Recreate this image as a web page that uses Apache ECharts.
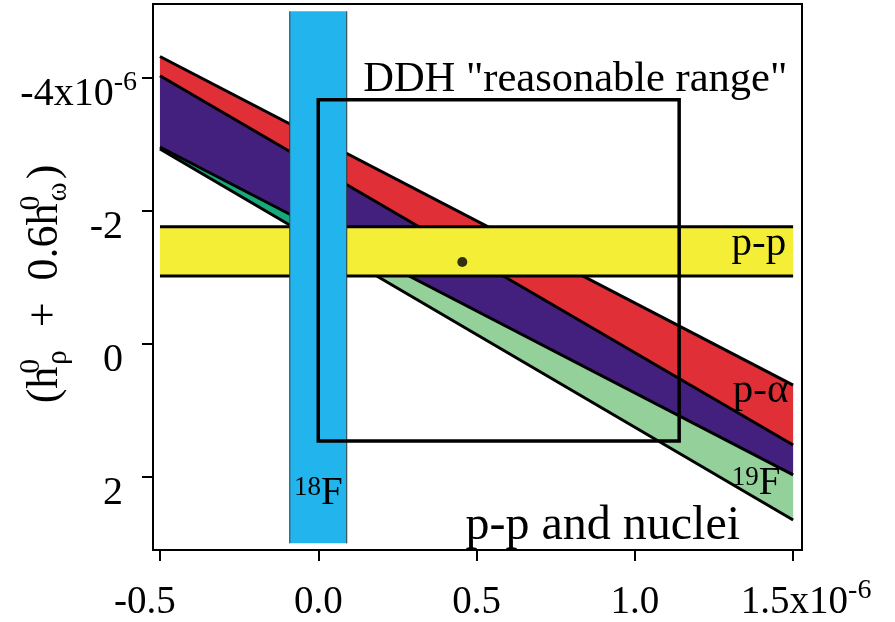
<!DOCTYPE html>
<html><head><meta charset="utf-8">
<script src="https://cdn.jsdelivr.net/npm/echarts@6/dist/echarts.min.js"></script>
<style>html,body{margin:0;padding:0;background:#fff}#c{width:895px;height:622px}</style>
</head><body><div id="c"></div>
<script>
// ---- data ----
const xTicks = [-0.5, 0.0, 0.5, 1.0, 1.5];
const yTicks = [-4, -2, 0, 2];
const bandX = [-0.5, 1.5];
const redTop = [-4.32, 0.62];
const redBottom = [-4.03, 1.52];
const purpleBottom = [-2.96, 1.97];
const greenBottom = [-2.93, 2.65];
const ppX = [-0.5, 1.5];
const ppY = [-1.76, -1.02];
const f18X = [-0.09, 0.09];
const f18Y = [-5.0, 3.0];
const ddhX = [0.0, 1.14];
const ddhY = [-3.67, 1.46];
const bestPoint = [0.455, -1.23];
const annotText = ['DDH "reasonable range"', 'p-p', 'p-\u03b1', '{s|19}F', '{s|18}F', 'p-p and nuclei'];
const annotX = [0.142, 1.478, 1.485, 1.46, 0.0, 0.465];
const annotY = [-3.97, -1.5, 0.71, 2.1, 2.26, 2.74];

// ---- styling ----
const FONT = "'Liberation Serif','Times New Roman',serif";
const annotAlign = ['left', 'right', 'right', 'right', 'center', 'left'];
const annotSize = [42.5, 41, 41, 39, 39, 48];

function at(arr, x) { return arr[0] + (arr[1] - arr[0]) * (x - bandX[0]) / (bandX[1] - bandX[0]); }

function bandShape(api, x0, x1, top, bot, fill) {
  const p = [api.coord([x0, at(top, x0)]), api.coord([x1, at(top, x1)]),
             api.coord([x1, at(bot, x1)]), api.coord([x0, at(bot, x0)])];
  return { type: 'polygon', shape: { points: p }, style: { fill: fill, stroke: null } };
}
function edge(api, arr, color, w) {
  return { type: 'polyline', shape: { points: [api.coord([bandX[0], arr[0]]), api.coord([bandX[1], arr[1]])] },
           style: { stroke: color || '#000', lineWidth: w || 3, fill: null } };
}

const chart = echarts.init(document.getElementById('c'), null, { renderer: 'canvas' });
const option = {
  animation: false,
  backgroundColor: '#fff',
  grid: { left: 153, right: 93, top: 4, bottom: 72, containLabel: false, outerBoundsMode: 'none',
          show: true, borderColor: '#000', borderWidth: 2, backgroundColor: 'transparent' },
  xAxis: {
    type: 'value', min: -0.522, max: 1.528,
    splitLine: { show: false },
    axisLine: { show: true, onZero: false, lineStyle: { color: '#000', width: 2 } },
    axisTick: { show: true, length: 11, lineStyle: { color: '#000', width: 2 }, customValues: xTicks },
    axisLabel: {
      customValues: xTicks, margin: 27, color: '#000', fontFamily: FONT,
      formatter: function (v) {
        const s = v.toFixed(1);
        if (v === 1.5) return '{pad|}{m|' + s + 'x10}{s|-6}';
        if (v === -0.5) return '{m|' + s + '}{pad2|}';
        return '{m|' + s + '}';
      },
      rich: {
        m: { fontSize: 39, lineHeight: 52, fontFamily: FONT, color: '#000' },
        s: { fontSize: 28, verticalAlign: 'top', fontFamily: FONT, color: '#000' },
        pad: { width: 26, height: 10 },
        pad2: { width: 30, height: 10 }
      }
    }
  },
  yAxis: {
    type: 'value', inverse: true, min: -5.11, max: 3.10,
    splitLine: { show: false },
    axisLine: { show: true, onZero: false, lineStyle: { color: '#000', width: 2 } },
    axisTick: { show: true, length: 11, lineStyle: { color: '#000', width: 2 }, customValues: yTicks },
    axisLabel: {
      customValues: yTicks, margin: 16, color: '#000', fontFamily: FONT,
      padding: [34, 0, 0, 0],
      formatter: function (v) {
        if (v === -4) return '{m|-4x10}{s|-6}';
        return '{m|' + v + '}{pad|}';
      },
      rich: {
        m: { fontSize: 40, lineHeight: 52, fontFamily: FONT, color: '#000' },
        s: { fontSize: 28, verticalAlign: 'top', fontFamily: FONT, color: '#000' },
        pad: { width: 14, height: 10 }
      }
    },
    name: '{t|(h}{sp|0}{sb|\u03c1}{pl|+}{t|0.6h}{sp|0}{sb|\u03c9}{te|)}',
    nameLocation: 'middle', nameRotate: 90, nameGap: 80, nameMoveOverlap: false,
    nameTextStyle: {
      rich: {
        t: { fontSize: 44, lineHeight: 56, fontFamily: FONT, color: '#000' },
        te: { fontSize: 44, lineHeight: 56, fontFamily: FONT, color: '#000', padding: [0, 14, 0, 0] },
        pl: { fontSize: 44, lineHeight: 56, fontFamily: FONT, color: '#000', padding: [0, 22, 0, 20] },
        sp: { fontSize: 29, width: 1, verticalAlign: 'top', fontFamily: FONT, color: '#000' },
        sb: { fontSize: 29, verticalAlign: 'bottom', fontFamily: FONT, color: '#000', padding: [0, 3, 0, 1] }
      }
    }
  },
  series: [
    { // nuclear bands
      type: 'custom', data: [0], silent: true, z: 1,
      renderItem: function (params, api) {
        const xs = f18X[0];
        return { type: 'group', children: [
          bandShape(api, bandX[0], xs, purpleBottom, greenBottom, '#16a97c'),
          bandShape(api, xs, bandX[1], purpleBottom, greenBottom, '#94d09a'),
          bandShape(api, bandX[0], bandX[1], redBottom, purpleBottom, '#44207e'),
          bandShape(api, bandX[0], bandX[1], redTop, redBottom, '#e02f36'),
          edge(api, greenBottom), edge(api, purpleBottom), edge(api, redBottom), edge(api, redTop)
        ]};
      }
    },
    { // p-p band
      type: 'custom', data: [0], silent: true, z: 2,
      renderItem: function (params, api) {
        const a = api.coord([ppX[0], ppY[0]]), b = api.coord([ppX[1], ppY[1]]);
        return { type: 'group', children: [
          { type: 'rect', shape: { x: a[0], y: a[1], width: b[0] - a[0], height: b[1] - a[1] }, style: { fill: '#f4ee37' } },
          { type: 'line', shape: { x1: a[0], y1: a[1], x2: b[0], y2: a[1] }, style: { stroke: '#000', lineWidth: 3 } },
          { type: 'line', shape: { x1: a[0], y1: b[1], x2: b[0], y2: b[1] }, style: { stroke: '#000', lineWidth: 3 } }
        ]};
      }
    },
    { // 18F band
      type: 'custom', data: [0], silent: true, z: 3,
      renderItem: function (params, api) {
        const a = api.coord([f18X[0], f18Y[0]]), b = api.coord([f18X[1], f18Y[1]]);
        return { type: 'group', children: [
          { type: 'rect', shape: { x: a[0], y: a[1], width: b[0] - a[0], height: b[1] - a[1] }, style: { fill: '#22b5ed' } },
          { type: 'line', shape: { x1: a[0], y1: a[1], x2: a[0], y2: b[1] }, style: { stroke: '#333', lineWidth: 1 } },
          { type: 'line', shape: { x1: b[0], y1: a[1], x2: b[0], y2: b[1] }, style: { stroke: '#333', lineWidth: 1 } }
        ]};
      }
    },
    { // DDH reasonable range
      type: 'custom', data: [0], silent: true, z: 4,
      renderItem: function (params, api) {
        const a = api.coord([ddhX[0], ddhY[0]]), b = api.coord([ddhX[1], ddhY[1]]);
        return { type: 'rect', shape: { x: a[0], y: a[1], width: b[0] - a[0], height: b[1] - a[1] },
                 style: { fill: null, stroke: '#000', lineWidth: 3.5 } };
      }
    },
    { // best value dot
      type: 'scatter', data: [bestPoint], symbol: 'circle', symbolSize: 10, z: 5,
      itemStyle: { color: '#000' }, silent: true
    },
    { // annotations
      type: 'custom', data: annotText.map(function (t, i) { return i; }), silent: true, z: 6,
      renderItem: function (params, api) {
        const i = params.dataIndex;
        const p = api.coord([annotX[i], annotY[i]]);
        return { type: 'text', x: p[0], y: p[1], style: {
          text: annotText[i], fontSize: annotSize[i], fontFamily: FONT, fill: '#000',
          align: annotAlign[i], verticalAlign: 'middle',
          rich: { s: { fontSize: 27, verticalAlign: 'top', fontFamily: FONT, fill: '#000' } }
        }};
      }
    }
  ]
};
chart.setOption(option);
</script>
</body></html>
